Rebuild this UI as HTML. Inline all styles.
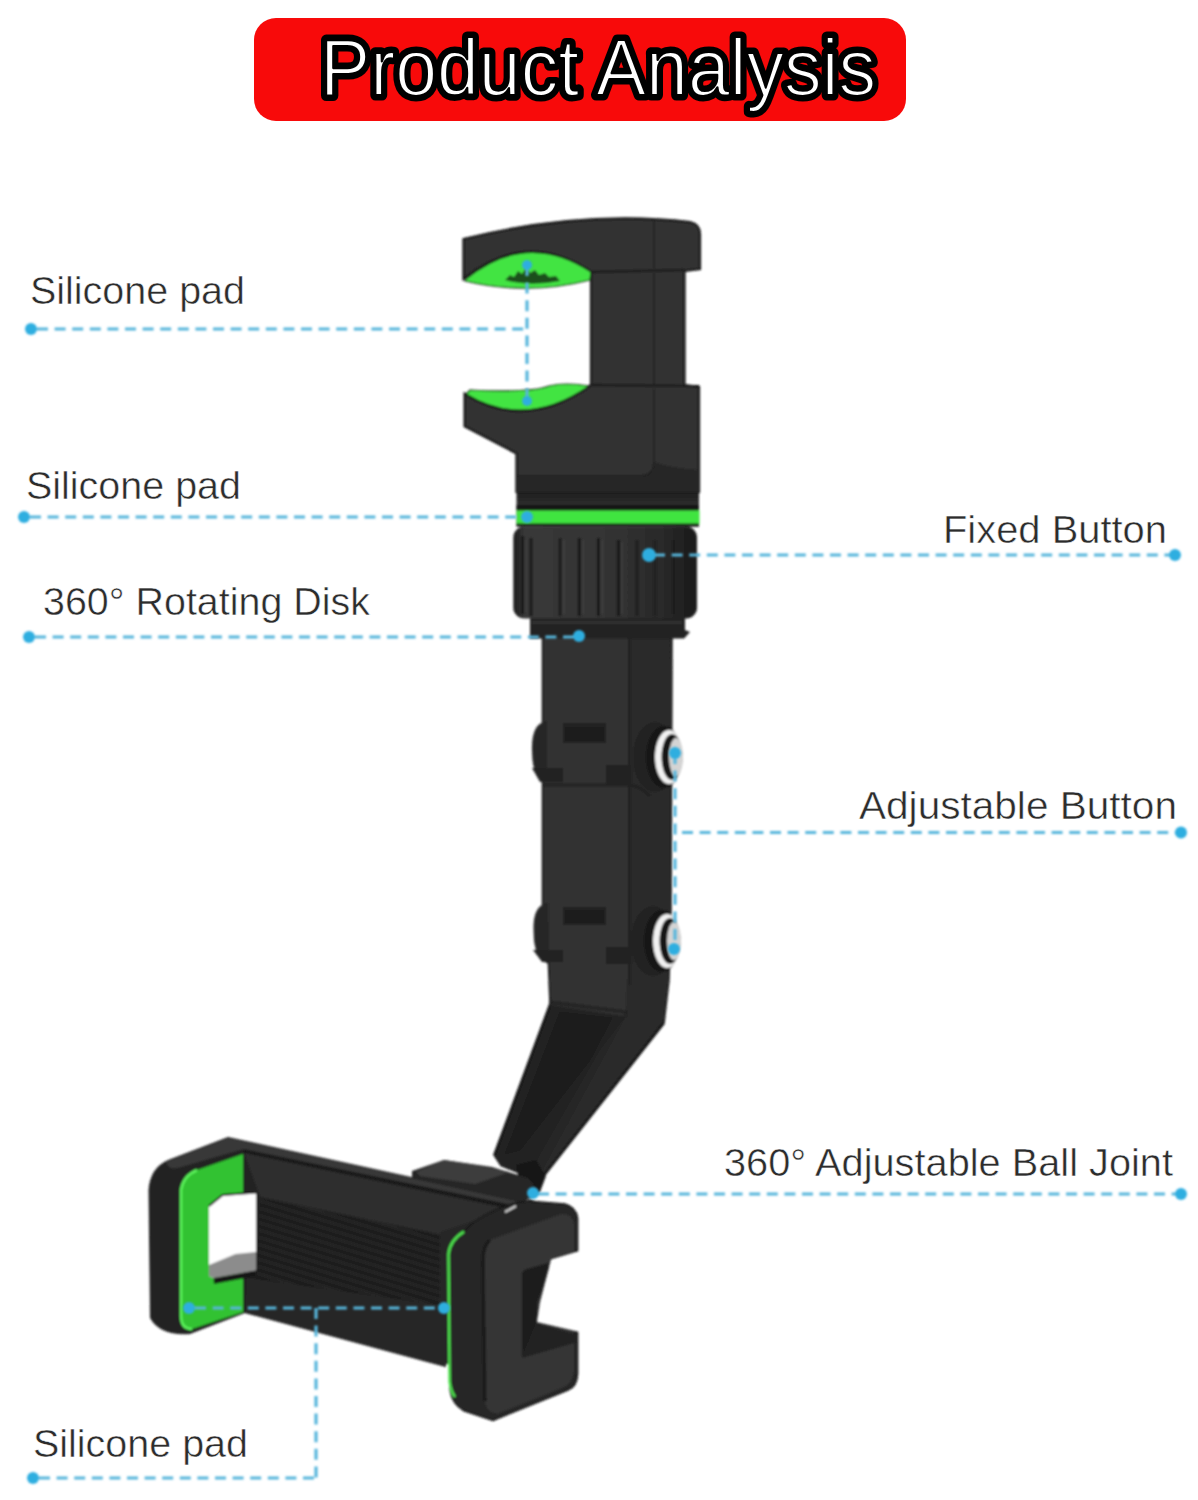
<!DOCTYPE html>
<html><head><meta charset="utf-8">
<style>
html,body{margin:0;padding:0;background:#fff;width:1198px;height:1500px;overflow:hidden}
svg{display:block}
.lb{font-family:"Liberation Sans",sans-serif;font-size:39.5px;fill:#2c2c2c;stroke:#fff;stroke-width:0.5px}
.ttl{font-family:"Liberation Sans",sans-serif;font-size:80px;fill:#fff;stroke:#000;stroke-width:11px;paint-order:stroke fill;stroke-linejoin:round}
.ttl2{font-family:"Liberation Sans",sans-serif;font-size:80px;fill:#fff;stroke:#000;stroke-width:2.2px;stroke-linejoin:round}
.dl{stroke:#56b6dc;stroke-width:3.2;stroke-dasharray:11 6.6;fill:none}
.dt{fill:#2eaee0}
</style></head>
<body>
<svg width="1198" height="1500" viewBox="0 0 1198 1500">
<defs><filter id="soft" x="-1%" y="-1%" width="102%" height="102%"><feGaussianBlur stdDeviation="0.8"/></filter></defs>
<rect x="0" y="0" width="1198" height="1500" fill="#fff"/>
<!-- banner -->
<rect x="254" y="18" width="652" height="103" rx="22" ry="22" fill="#f80a0a"/>
<text class="ttl" x="320" y="95" textLength="556" lengthAdjust="spacingAndGlyphs">Product Analysis</text>
<text class="ttl2" x="320" y="95" textLength="556" lengthAdjust="spacingAndGlyphs">Product Analysis</text>

<!-- PRODUCT -->
<g id="product" filter="url(#soft)">
<defs>
<linearGradient id="gKnob" x1="0" x2="1" y1="0" y2="0">
<stop offset="0" stop-color="#1a1a1a"/><stop offset="0.06" stop-color="#383838"/><stop offset="0.45" stop-color="#353535"/><stop offset="0.8" stop-color="#2a2a2a"/><stop offset="1" stop-color="#1a1a1a"/>
</linearGradient>
<linearGradient id="gRing" x1="0" x2="0" y1="0" y2="1">
<stop offset="0" stop-color="#1d1d1d"/><stop offset="0.5" stop-color="#323232"/><stop offset="1" stop-color="#232323"/>
</linearGradient>
<linearGradient id="gCol" x1="0" x2="0" y1="0" y2="1">
<stop offset="0" stop-color="#232323"/><stop offset="0.3" stop-color="#313131"/><stop offset="1" stop-color="#1d1d1d"/>
</linearGradient>
<pattern id="carbon" width="9" height="7" patternUnits="userSpaceOnUse" patternTransform="rotate(17)">
<rect width="9" height="7" fill="#1d1d1d"/>
<rect y="0" width="9" height="3" fill="#252525"/>
</pattern>
</defs>

<!-- ===== ARM ===== -->
<!-- upper arm -->
<path d="M542.5,636 L672,636 L671,913 L669,980 L664,1023.6 L540,1181 L501,1165.6 L494,1155 L550,1004 L548.4,963 L542.5,960 Z" fill="#303030" stroke="#181818" stroke-width="1.5"/>
<!-- right face -->
<path d="M631,637 L671,637 L670,913 L668,980 L663,1023.6 L540,1180 L537.8,1178 L625.5,1016.6 L627,985 L631,960 Z" fill="#292929"/>
<path d="M629.5,637 L629.5,985" stroke="#202020" stroke-width="2.5"/>
<!-- lower front face step -->
<path d="M549,1002 L626,1012 L626,1017" stroke="#232323" stroke-width="3" fill="none"/>
<!-- elbow diagonal front face -->
<path d="M550,1005 L625.5,1016.6 L537.8,1178 L501,1165.6 L494.5,1155 Z" fill="#202020"/>
<path d="M560,1012 L612,1018 L590,1060 L520,1150 L505,1154 Z" fill="#1a1a1a"/>
<path d="M625.5,1016.6 L537.8,1178 L530,1172 L600,1050 Z" fill="#272727"/>
<path d="M550,1005 L494.5,1155" stroke="#141414" stroke-width="2.5"/>
<path d="M663,1023.6 L540,1180" stroke="#161616" stroke-width="2.5"/>
<!-- joint 1 -->
<path d="M547,721 Q531,723 532,751 Q532,779 547,782 Z" fill="#272727"/>
<rect x="563" y="723" width="43" height="20" fill="#202020"/>
<rect x="565" y="727" width="39" height="14" fill="#1a1a1a"/>
<path d="M532,768 L563,768 L563,782 L540,782 Z" fill="#232323"/>
<path d="M606,765 L632,765 L632,783 L606,783 Z" fill="#232323"/>
<path d="M542.5,785 L630,785 Q640,786 650,796" stroke="#212121" stroke-width="3" fill="none"/>
<!-- joint 2 -->
<path d="M548,903 Q532,905 533.6,932 Q533.6,960 549,963 Z" fill="#272727"/>
<rect x="563" y="907" width="43" height="18" fill="#202020"/>
<rect x="565" y="910" width="39" height="13" fill="#1a1a1a"/>
<path d="M533,950 L563,950 L563,962 L542,962 Z" fill="#232323"/>
<path d="M606,947 L632,947 L632,964 L606,964 Z" fill="#232323"/>
<!-- buttons -->
<g>
<ellipse cx="655" cy="757" rx="22" ry="35" fill="#242424"/>
<ellipse cx="664" cy="757" rx="18" ry="31" fill="#151515"/>
<ellipse cx="669" cy="757" rx="14" ry="27" fill="#f2f2f2"/>
<ellipse cx="672" cy="757" rx="10.5" ry="23" fill="#141414"/>
<ellipse cx="676" cy="757" rx="7" ry="19" fill="#d4d4d4"/>
</g>
<g>
<ellipse cx="653" cy="941" rx="22" ry="35" fill="#242424"/>
<ellipse cx="662" cy="941" rx="18" ry="31" fill="#151515"/>
<ellipse cx="667" cy="941" rx="14" ry="27" fill="#f2f2f2"/>
<ellipse cx="670" cy="941" rx="10.5" ry="23" fill="#141414"/>
<ellipse cx="674" cy="941" rx="7" ry="19" fill="#d4d4d4"/>
</g>

<!-- collar under knob -->
<path d="M530,618 L685,618 L685,630 L690,632 L684,638.5 L530,638.5 Z" fill="#202020"/>
<rect x="532" y="621" width="150" height="3" fill="#313131"/>

<!-- ===== CLAMP ===== -->
<path d="M463.5,239 C520,225 600,212 690,222 Q700,224 700,234 L700,269 L684.5,271 L684.5,385 L699,387 L699,492 L516.5,492 L516.5,453.4 L464.6,426.3 L464.6,393.7 Q525.4,431.8 591,385 L591,272 Q526,228.5 463.5,279 Z" fill="#333333" stroke="#161616" stroke-width="2.2"/>
<!-- seams -->
<path d="M654,221 L654,268" stroke="#252525" stroke-width="2"/>
<path d="M654,273 L654,384" stroke="#272727" stroke-width="2"/>
<path d="M591,272 L684.5,270" stroke="#181818" stroke-width="2"/>
<path d="M591,385 L699,386" stroke="#181818" stroke-width="2"/>
<path d="M654,389 L654,462" stroke="#282828" stroke-width="2"/><path d="M654,462 Q654,476 640,476 L516.5,476 L516.5,492 L699,492 L699,470 Q670,468 654,462 Z" fill="#272727"/>
<path d="M516.5,476 L640,476 Q654,476 654,462" stroke="#202020" stroke-width="2" fill="none"/>
<!-- green top pad -->
<path d="M465,280 Q526,229 591,272 L590,280 Q527,296 465,281 Z" fill="#43e443" stroke="#161616" stroke-width="1.2"/>
<path d="M505,280 L510,275 L514,277 L518,271 L522,274 L526,268 L530,273 L535,270 L539,275 L545,273 L549,277 L556,276 L560,281 Q530,287 505,280 Z" fill="#1e4f1e"/>
<!-- green bottom pad -->
<path d="M466,394 Q525.4,430 589,386 Q565,382 549,386 Q532,393 470,390 Z" fill="#43e443" stroke="#161616" stroke-width="1.2"/>

<!-- ring -->
<rect x="516.5" y="492" width="182.5" height="34" fill="url(#gRing)"/>
<rect x="516.5" y="505" width="182.5" height="5.5" fill="#121212"/>
<rect x="516.5" y="510.5" width="183" height="13.2" fill="#40e440"/>
<rect x="516.5" y="523.7" width="182.5" height="3" fill="#121212"/>
<!-- knob -->
<rect x="513.3" y="526.5" width="183.7" height="92" rx="11" ry="11" fill="url(#gKnob)"/>
<g stroke="#151515" stroke-width="3">
<path d="M522.5,536 V614"/><path d="M531,538 V616"/><path d="M560,538 V616"/><path d="M579.3,538 V616"/><path d="M598.5,538 V616"/><path d="M618.5,540 V616"/>
</g>
<g stroke="#1c1c1c" stroke-width="2.5">
<path d="M637,540 V616"/><path d="M655,540 V616"/><path d="M673.6,540 V614"/><path d="M687,538 V612"/>
</g>
<g stroke="#3e3e3e" stroke-width="2">
<path d="M526,540 V612"/><path d="M563.5,540 V614"/><path d="M583,540 V614"/><path d="M602,540 V614"/><path d="M622,542 V614"/>
</g>

<!-- ===== HOLDER ===== -->
<!-- ball joint -->
<path d="M516,1165 L536,1160 L546,1176 L540,1192 L522,1196 Z" fill="#191919"/>
<!-- ball mount block -->
<path d="M412,1171 L444,1160 L492,1167 L528,1178 L540,1192 L520,1204 L412,1182 Z" fill="#252525"/>
<path d="M416,1172 L444,1160 L475,1165 L509.5,1172 L475,1184 L420,1176 Z" fill="#3c3c3c"/>
<!-- frame silhouette -->
<path d="M228,1137 L516.5,1200 L521,1206 L516,1213 L472,1224 L447,1236 L446,1367 L245,1313 L190,1334 Q160,1336 150,1318 L148.5,1190 Q150,1168 168,1160 Z" fill="#202020"/>
<!-- frame top surface -->
<path d="M228,1138 L516.5,1201 L516,1206 L244,1149 L178,1168 Q168,1170 166,1162 Z" fill="#393939"/>
<path d="M244,1151 L516,1207.5" stroke="#151515" stroke-width="2.5"/>
<!-- inner top wall -->
<path d="M244,1153 L500,1207 L470,1224 L447,1236 L260,1197 Z" fill="#2f2f2f"/>
<!-- carbon -->
<path d="M257,1197 L447,1236 L447,1306 L247,1278 L257,1276 Z" fill="url(#carbon)"/>
<!-- lower panel -->
<path d="M247,1278 L447,1306 L446,1367 L245,1313 Z" fill="#252525"/>
<!-- inner wall strip between green and carbon -->
<path d="M243,1154 L260,1197 L257,1276 L247,1278 L245,1313 L243,1313 Z" fill="#232323"/>
<!-- left green pad -->
<path d="M243,1154 L243,1312 L192,1329 Q181,1329 181,1316 L181,1190 Q183,1176 197,1170 Z" fill="#30c230"/>
<path d="M197,1170 Q183,1176 181,1190 L181,1316 Q181,1329 192,1329" stroke="#5cf55c" stroke-width="2.5" fill="none"/>
<!-- window -->
<path d="M209,1206 L222.6,1195 L256,1192.5 L256,1270 L213.5,1278 L209,1276 Z" fill="#fff"/>
<path d="M209,1265 L235.5,1254 L256,1252 L256,1270.6 L213.5,1278 L209,1276 Z" fill="#8c8c8c"/>
<path d="M213.5,1278 L256,1270.6 L256,1276 L214,1284 Z" fill="#161616"/>
<path d="M209,1206 L222.6,1195 L256,1192.5" stroke="#161616" stroke-width="2" fill="none"/>
<!-- right C piece -->
<path d="M440,1232 L500,1212 L516,1206 L530,1199 L540,1203 L500,1262 L460,1262 L460,1366 L440,1363 Z" fill="#262626"/>
<path d="M472,1223.6 Q500,1204 527,1201 L564.8,1204 Q576,1207 577.6,1218 L577.6,1250.8 L550.4,1258.8 L539.2,1302 L536,1322.8 L577.6,1332.4 L577.6,1374 Q577,1387 568,1390 L493,1420.4 L464,1410.8 Q452,1404 450,1390 L448,1254 Q450,1238 464,1231.6 Z" fill="#262626" stroke="#141414" stroke-width="1.5"/>
<path d="M490,1240 L561,1214 Q572,1213 574,1224 L574,1251.8 L550.4,1258.8 L539.2,1302 L536,1322.8 L574,1331.5 L574,1372 Q572,1384 562,1388 L500,1413 Q487,1415 485,1401 L483,1262 Q483,1246 490,1240 Z" fill="#363636"/>
<path d="M485,1401 L483,1262 Q483,1246 490,1240" stroke="#191919" stroke-width="3" fill="none"/>
<path d="M522,1274 Q522,1270 527,1269 L548.6,1262.7 L548.6,1269 L537.3,1302.8 L536.4,1323.4 L522,1358 Z" fill="#1c1c1c"/>
<path d="M536.4,1323.4 L577.5,1334.6 L577.5,1342 L522,1358 Z" fill="#222"/>
<path d="M464,1231.6 Q450,1240 448.5,1254 L449.6,1382 Q451,1392 455,1397" stroke="#4ee34e" stroke-width="2.5" fill="none"/>
<path d="M505,1212 L516,1206" stroke="#cfcfcf" stroke-width="2"/>
</g>

<!-- labels -->
<text class="lb" x="30" y="304" textLength="215" lengthAdjust="spacingAndGlyphs">Silicone pad</text>
<text class="lb" x="26" y="498.5" textLength="215" lengthAdjust="spacingAndGlyphs">Silicone pad</text>
<text class="lb" x="43" y="615" textLength="327" lengthAdjust="spacingAndGlyphs">360° Rotating Disk</text>
<text class="lb" x="943" y="543" textLength="224" lengthAdjust="spacingAndGlyphs">Fixed Button</text>
<text class="lb" x="859" y="819" textLength="318" lengthAdjust="spacingAndGlyphs">Adjustable Button</text>
<text class="lb" x="724" y="1176" textLength="449" lengthAdjust="spacingAndGlyphs">360° Adjustable Ball Joint</text>
<text class="lb" x="33" y="1457" textLength="215" lengthAdjust="spacingAndGlyphs">Silicone pad</text>

<!-- dashed lines -->
<g filter="url(#soft)">
<path class="dl" d="M37 329H527"/>
<path class="dl" d="M527 265V401"/>
<path class="dl" d="M30 517H527"/>
<path class="dl" d="M35 637H579"/>
<path class="dl" d="M654 555H1175"/>
<path class="dl" d="M682 832.5H1181"/>
<path class="dl" d="M675 753V949"/>
<path class="dl" d="M538 1194H1181"/>
<path class="dl" d="M195 1308H444"/>
<path class="dl" d="M316 1308V1478"/>
<path class="dl" d="M39 1478H316"/>
<circle class="dt" cx="31" cy="329" r="6"/>
<circle class="dt" cx="527" cy="265" r="5"/>
<circle class="dt" cx="527" cy="401" r="5"/>
<circle class="dt" cx="24" cy="517" r="6"/>
<circle class="dt" cx="527" cy="517" r="6"/>
<circle class="dt" cx="29" cy="637" r="6"/>
<circle class="dt" cx="579" cy="636" r="6"/>
<circle class="dt" cx="649" cy="555" r="7"/>
<circle class="dt" cx="1175" cy="555" r="6"/>
<circle class="dt" cx="1181" cy="832.5" r="6"/>
<circle class="dt" cx="675" cy="753" r="6"/>
<circle class="dt" cx="674" cy="949" r="6"/>
<circle class="dt" cx="533" cy="1193" r="6"/>
<circle class="dt" cx="1181" cy="1194" r="6"/>
<circle class="dt" cx="189" cy="1308" r="6"/>
<circle class="dt" cx="444" cy="1308" r="6"/>
<circle class="dt" cx="33" cy="1478" r="6"/>
</g>
</svg>
</body></html>
